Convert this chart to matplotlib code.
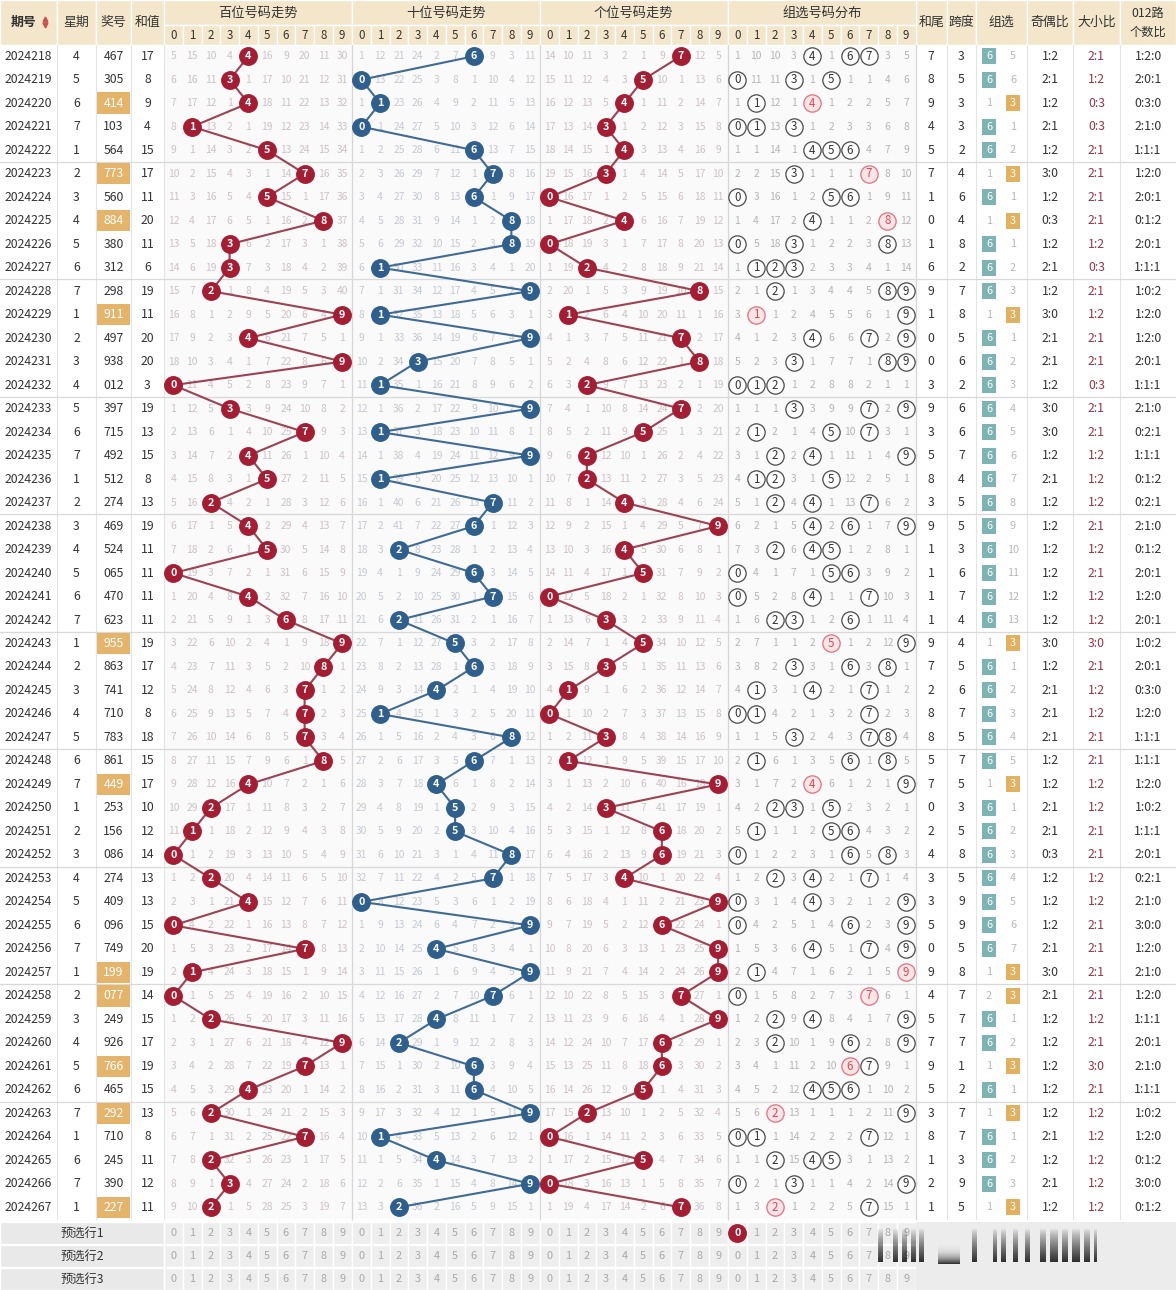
import numpy as np
import matplotlib.pyplot as plt
from matplotlib.patches import Rectangle

plt.rcParams['font.family'] = ['Noto Sans CJK SC', 'DejaVu Sans']

# ------------------------------------------------------------------------------
#  Data
# ------------------------------------------------------------------------------
issues = [str(n) for n in range(2024218, 2024268)]
weekdays = [4, 5, 6, 7, 1, 2, 3, 4, 5, 6, 7, 1, 2, 3, 4, 5, 6, 7, 1, 2,
            3, 4, 5, 6, 7, 1, 2, 3, 4, 5, 6, 7, 1, 2, 3, 4, 5, 6, 7, 1,
            2, 3, 4, 5, 6, 7, 1, 6, 7, 1]
draws = ["467", "305", "414", "103", "564", "773", "560", "884", "380", "312",
         "298", "911", "497", "938", "012", "397", "715", "492", "512", "274",
         "469", "524", "065", "470", "623", "955", "863", "741", "710", "783",
         "861", "449", "253", "156", "086", "274", "409", "096", "749", "199",
         "077", "249", "926", "766", "465", "292", "710", "245", "390", "227"]
sums = [17, 8, 9, 4, 15, 17, 11, 20, 11, 6, 19, 11, 20, 20, 3, 19, 13, 15, 8, 13,
        19, 11, 11, 11, 11, 19, 17, 12, 8, 18, 15, 17, 10, 12, 14, 13, 13, 15, 20, 19,
        14, 15, 17, 19, 15, 13, 8, 11, 12, 11]

# omission values shown on the first row (0 = hit)
first_hundreds = [5, 15, 10, 4, 0, 16, 9, 20, 11, 30]
first_tens = [1, 12, 21, 24, 2, 7, 0, 9, 3, 11]
first_units = [14, 10, 11, 3, 2, 1, 9, 0, 12, 5]
first_group = [1, 10, 10, 3, 0, 1, 0, 0, 3, 5]
first_g6, first_g3 = 0, 5

section_titles = ["百位号码走势", "十位号码走势", "个位号码走势", "组选号码分布"]
preselect_labels = ["预选行1", "预选行2", "预选行3"]

# ------------------------------------------------------------------------------
#  Derived rows
# ------------------------------------------------------------------------------
digits = [[int(c) for c in d] for d in draws]


def omission(first, hit):
    cur = list(first)
    rows = [cur]
    for i in range(1, len(digits)):
        cur = [0 if hit(i, k) else v + 1 for k, v in enumerate(cur)]
        rows.append(cur)
    return rows


om_h = omission(first_hundreds, lambda i, k: digits[i][0] == k)
om_t = omission(first_tens, lambda i, k: digits[i][1] == k)
om_u = omission(first_units, lambda i, k: digits[i][2] == k)
om_g = omission(first_group, lambda i, k: k in digits[i])

is_g3 = [len(set(d)) == 2 for d in digits]
g6, g3 = [first_g6], [first_g3]
for i in range(1, len(digits)):
    g6.append(g6[-1] + 1 if is_g3[i] else 0)
    g3.append(0 if is_g3[i] else g3[-1] + 1)

# ------------------------------------------------------------------------------
#  Layout
# ------------------------------------------------------------------------------
W, H = 1176, 1290
HDR1, HDR2 = 25, 44.5
ROW_H = 23.49
N = len(draws)
row_y = [HDR2 + ROW_H * (i + 0.5) for i in range(N)]
left_edges = [0, 57, 96, 131, 164]
sec_x0 = [164, 352, 540, 728]
CW = 18.75
right_edges = [915.5, 947, 976, 1027, 1073, 1120, 1176]
body_bot = HDR2 + ROW_H * N
pre_y = [1233, 1256, 1279]

BEIGE = "#f3e6ca"
TXT = "#333333"
RED = "#a51d33"
BLUE = "#2f5f8c"
FS = 8.8

fig = plt.figure(figsize=(11.76, 12.90), dpi=100)
ax = fig.add_axes([0, 0, 1, 1])
ax.set_xlim(0, W)
ax.set_ylim(H, 0)
ax.axis("off")


def colx(s, k):
    return sec_x0[s] + CW * (k + 0.5)


def cell(x0, y0, x1, y1, fc, ec="white", lw=1.0, z=1):
    ax.add_patch(Rectangle((x0, y0), x1 - x0, y1 - y0, fc=fc, ec=ec, lw=lw, zorder=z))


# header
for a, b in zip(left_edges[:-1], left_edges[1:]):
    cell(a, 0, b, HDR2, BEIGE)
for a, b in zip(right_edges[:-1], right_edges[1:]):
    cell(a, 0, b, HDR2, BEIGE)
for s in range(4):
    cell(sec_x0[s], 0, sec_x0[s] + 10 * CW, HDR1, BEIGE)
    ax.text(sec_x0[s] + 5 * CW, HDR1 / 2 + 1, section_titles[s], ha="center",
            va="center", fontsize=9.5, color=TXT)
    for k in range(10):
        cell(colx(s, k) - CW / 2, HDR1, colx(s, k) + CW / 2, HDR2, BEIGE)
        ax.text(colx(s, k), (HDR1 + HDR2) / 2 + 1, str(k), ha="center",
                va="center", fontsize=8.3, color=TXT)

left_titles = ["期号", "星期", "奖号", "和值"]
for j, t in enumerate(left_titles):
    cx = (left_edges[j] + left_edges[j + 1]) / 2 - (5 if j == 0 else 0)
    ax.text(cx, HDR2 / 2, t, ha="center", va="center", fontsize=9.3,
            color=TXT, fontweight="bold" if j == 0 else "normal")
ax.plot([45], [HDR2 / 2 - 3], marker="^", ms=3.5, color="#c8504a", ls="none")
ax.plot([45], [HDR2 / 2 + 3], marker="v", ms=3.5, color="#c8504a", ls="none")

right_titles = ["和尾", "跨度", "组选", "奇偶比", "大小比"]
for j, t in enumerate(right_titles):
    cx = (right_edges[j] + right_edges[j + 1]) / 2
    ax.text(cx, HDR2 / 2, t, ha="center", va="center", fontsize=9.3, color=TXT)
ax.text(1148, 13, "012路", ha="center", va="center", fontsize=8.8, color=TXT)
ax.text(1148, 32, "个数比", ha="center", va="center", fontsize=8.8, color=TXT)

# body backgrounds
cell(0, HDR2, W, body_bot, "white", ec="none", z=0)
cell(sec_x0[0], HDR2, right_edges[0], body_bot, "#fafafa", ec="none", z=0)
for x in left_edges[1:] + right_edges[1:-1]:
    ax.plot([x, x], [HDR2, body_bot], color="#e4e4e4", lw=0.8, zorder=1)
for x in sec_x0[1:] + [right_edges[0]]:
    ax.plot([x, x], [HDR2, body_bot], color="#d6d6d6", lw=0.9, zorder=1)
for i in range(5, N, 5):
    y = HDR2 + ROW_H * i
    ax.plot([0, W], [y, y], color="#d9d9d9", lw=0.9, zorder=1)

# left columns
for i in range(N):
    y = row_y[i]
    ax.text(28.5, y, issues[i], ha="center", va="center", fontsize=FS, color=TXT)
    ax.text(76.5, y, str(weekdays[i]), ha="center", va="center", fontsize=FS, color=TXT)
    if is_g3[i]:
        cell(97, y - ROW_H / 2 + 1, 130, y + ROW_H / 2 - 1, "#e4b46a", ec="none", z=2)
        ax.text(113.5, y, draws[i], ha="center", va="center", fontsize=FS,
                color="white", zorder=3)
    else:
        ax.text(113.5, y, draws[i], ha="center", va="center", fontsize=FS, color=TXT)
    ax.text(147.5, y, str(sums[i]), ha="center", va="center", fontsize=FS, color=TXT)

# trend sections
trend = [(om_h, 0, RED, "#cdc2c5", "#9c4253"),
         (om_t, 1, BLUE, "#c5c9d0", "#3f6b94"),
         (om_u, 2, RED, "#cdc2c5", "#9c4253")]
for om, s, ball, gray, line in trend:
    xs = [colx(s, digits[i][s]) for i in range(N)]
    ax.plot(xs, row_y, color=line, lw=1.5, zorder=3)
    ax.scatter(xs, row_y, s=185, color=ball, zorder=4, linewidths=0)
    for i in range(N):
        for k in range(10):
            if om[i][k] == 0:
                ax.text(colx(s, k), row_y[i], str(k), ha="center", va="center",
                        fontsize=7.8, color="white", fontweight="bold", zorder=5)
            else:
                ax.text(colx(s, k), row_y[i], str(om[i][k]), ha="center",
                        va="center", fontsize=7.4, color=gray, zorder=2)

# group distribution
for i in range(N):
    for k in range(10):
        x, y = colx(3, k), row_y[i]
        if om_g[i][k] == 0:
            pair = digits[i].count(k) == 2
            ax.scatter([x], [y], s=155, facecolor="#fce4e7" if pair else "white",
                       edgecolor="#e0707f" if pair else "#4a4a4a", linewidths=0.9,
                       zorder=4)
            ax.text(x, y, str(k), ha="center", va="center", fontsize=8.3,
                    color="#d64b5c" if pair else TXT, zorder=5)
        else:
            ax.text(x, y, str(om_g[i][k]), ha="center", va="center",
                    fontsize=7.4, color="#b5b5b5", zorder=2)

# statistic columns
for i in range(N):
    y = row_y[i]
    d = digits[i]
    ax.text(931, y, str(sums[i] % 10), ha="center", va="center", fontsize=FS, color=TXT)
    ax.text(961.5, y, str(max(d) - min(d)), ha="center", va="center", fontsize=FS, color=TXT)
    if is_g3[i]:
        ax.text(989, y, str(g6[i]), ha="center", va="center", fontsize=7.8, color="#b8b8b8")
        cell(1006, y - 8, 1020, y + 8, "#e2b160", ec="none", z=2)
        ax.text(1013, y, "3", ha="center", va="center", fontsize=7.8, color="white", zorder=3)
    else:
        cell(982, y - 8, 996, y + 8, "#7db3b3", ec="none", z=2)
        ax.text(989, y, "6", ha="center", va="center", fontsize=7.8, color="white", zorder=3)
        ax.text(1013, y, str(g3[i]), ha="center", va="center", fontsize=7.8, color="#b8b8b8")
    odd = sum(v % 2 for v in d)
    big = sum(v >= 5 for v in d)
    m3 = [sum(v % 3 == r for v in d) for r in range(3)]
    ax.text(1050, y, f"{odd}:{3 - odd}", ha="center", va="center", fontsize=FS, color=TXT)
    ax.text(1096.5, y, f"{big}:{3 - big}", ha="center", va="center", fontsize=FS,
            color="#9a3347")
    ax.text(1148, y, ":".join(str(c) for c in m3), ha="center", va="center",
            fontsize=FS, color=TXT)

# pre-selection rows
for r, y in enumerate(pre_y):
    cell(0, y - 11.3, 164, y + 11.3, "#e9e9e9")
    ax.text(82, y, preselect_labels[r], ha="center", va="center", fontsize=FS, color=TXT)
    for s in range(4):
        for k in range(10):
            cell(colx(s, k) - CW / 2, y - 11.3, colx(s, k) + CW / 2, y + 11.3, "#eeeeee")
            if r == 0 and s == 3 and k == 0:
                ax.scatter([colx(s, k)], [y], s=185, color=RED, zorder=4, linewidths=0)
                ax.text(colx(s, k), y, "0", ha="center", va="center", fontsize=7.8,
                        color="white", fontweight="bold", zorder=5)
            else:
                ax.text(colx(s, k), y, str(k), ha="center", va="center",
                        fontsize=7.8, color="#a8a8a8", zorder=2)
cell(right_edges[0], pre_y[0] - 11.3, W, pre_y[-1] + 11.3, "#ececec", ec="none")

# blurred stamp over the lower right corner
bars = [(878, 5), (893, 5), (902, 5), (911, 5), (919, 5), (972, 5), (993, 4),
        (1001, 5), (1013, 5), (1025, 5), (1040, 6), (1050, 8), (1062, 6),
        (1072, 8), (1084, 6), (1094, 3)]
grad = np.linspace(0.0, 1.0, 40)[:, None]
for x, w in bars:
    ax.imshow(np.dstack([np.zeros((40, 1, 3)), 0.8 * grad[:, :, None] ** 0.8]),
              extent=(x, x + w, 1262, 1228), aspect="auto", zorder=6,
              interpolation="bilinear")
ax.imshow(np.dstack([np.zeros((40, 1, 3)), 0.8 * grad[:, :, None] ** 3]),
          extent=(938, 960, 1264, 1240), aspect="auto", zorder=6,
          interpolation="bilinear")
ax.set_xlim(0, W)
ax.set_ylim(H, 0)

fig.savefig("out.png", dpi=100)
